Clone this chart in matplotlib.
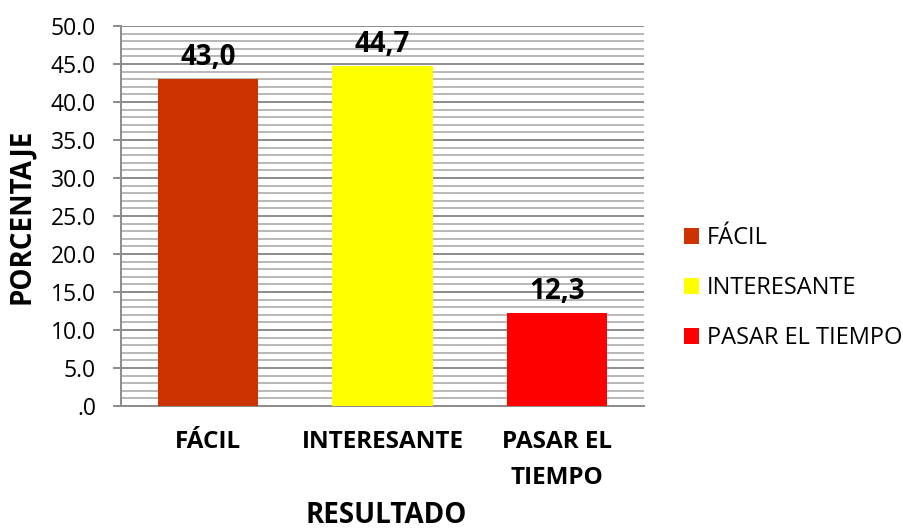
import matplotlib.pyplot as plt
from matplotlib.patches import Patch
from matplotlib.ticker import MultipleLocator

plt.rcParams['font.family'] = ['Open Sans', 'DejaVu Sans']

categories = ['FÁCIL', 'INTERESANTE', 'PASAR EL\nTIEMPO']
legend_names = ['FÁCIL', 'INTERESANTE', 'PASAR EL TIEMPO']
values = [43.0, 44.7, 12.3]
colors = ['#CC3300', '#FFFF00', '#FF0000']

fig = plt.figure(figsize=(9.04, 5.31), dpi=100)
ax = fig.add_axes([0.1339, 0.2354, 0.5785, 0.7156])

x = range(len(categories))
bars = ax.bar(x, values, width=0.575, color=colors, zorder=3)

ax.set_xlim(-0.5, 2.5)
ax.set_ylim(0, 50)
ax.yaxis.set_major_locator(MultipleLocator(5))
ax.yaxis.set_minor_locator(MultipleLocator(1))
ax.set_yticks([i * 5 for i in range(11)])
ax.set_yticklabels(['.0'] + ['%.1f' % (i * 5) for i in range(1, 11)], fontsize=16.5)
ax.grid(which='major', axis='y', color='#8C8C8C', lw=1.4, zorder=0)
ax.grid(which='minor', axis='y', color='#B8B8B8', lw=1.4, zorder=0)
ax.tick_params(axis='y', which='major', length=6, width=1.4, color='#8C8C8C', pad=12)
ax.tick_params(axis='y', which='minor', length=0)
ax.set_xticks(list(x))
ax.set_xticklabels(categories, fontsize=17.5, fontweight='bold', linespacing=1.7)
ax.tick_params(axis='x', length=0, pad=17)

for s in ['top', 'right']:
    ax.spines[s].set_visible(False)
for s in ['left', 'bottom']:
    ax.spines[s].set_color('#8C8C8C')
    ax.spines[s].set_linewidth(1.4)

for b, v in zip(bars, values):
    ax.text(b.get_x() + b.get_width() / 2, v + 0.9, ('%.1f' % v).replace('.', ','),
            ha='center', va='bottom', fontsize=20, fontweight='bold', zorder=4)

fig.text(22 / 904, 0.593, 'PORCENTAJE', rotation=90, ha='center', va='center',
         fontsize=20, fontweight='bold')
fig.text(386 / 904, 1 / 531, 'RESULTADO', ha='center', va='bottom',
         fontsize=20, fontweight='bold')

handles = [Patch(facecolor=c, label=n) for c, n in zip(colors, legend_names)]
fig.legend(handles=handles, loc='center left', bbox_to_anchor=(0.757, 0.457),
           frameon=False, fontsize=17, handlelength=0.62, handleheight=0.62,
           handletextpad=0.35, labelspacing=1.1, borderpad=0, borderaxespad=0)

fig.savefig('out.png', dpi=100)
